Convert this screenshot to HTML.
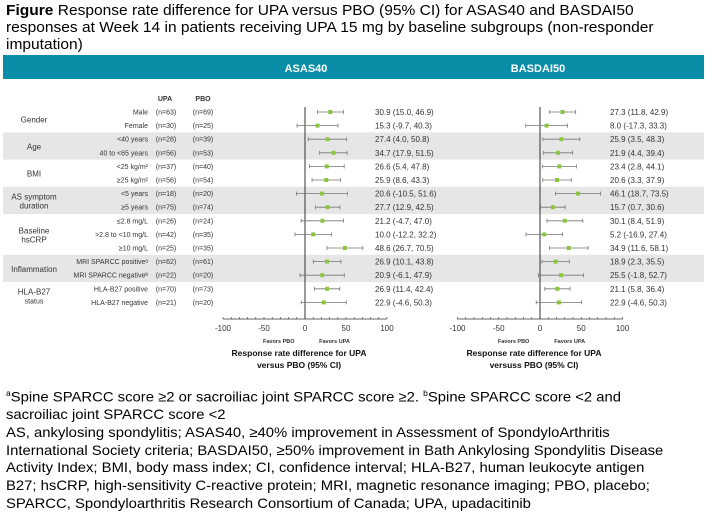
<!DOCTYPE html>
<html><head><meta charset="utf-8"><style>
body{margin:0;width:708px;height:510px;background:#fff;overflow:hidden;font-family:"Liberation Sans",Arial,sans-serif;}
.t{position:absolute;left:6px;top:2px;font-size:15px;line-height:17px;color:#000;white-space:nowrap;transform:scaleX(1.035);transform-origin:0 0;}
.fn{position:absolute;left:6px;top:385px;font-size:14px;line-height:17.7px;white-space:nowrap;transform:scaleX(1.06);transform-origin:0 0;}
</style></head><body>
<div class="t"><b>Figure</b> Response rate difference for UPA versus PBO (95% CI) for ASAS40 and BASDAI50<br>responses at Week 14 in patients receiving UPA 15 mg by baseline subgroups (non-responder<br>imputation)</div>
<svg id="c" width="708" height="380" style="position:absolute;left:0;top:0" font-family="Liberation Sans, Arial, sans-serif"></svg>
<div class="fn"><sup style="font-size:8px">a</sup>Spine SPARCC score ≥2 or sacroiliac joint SPARCC score ≥2. <sup style="font-size:8px">b</sup>Spine SPARCC score &lt;2 and<br>sacroiliac joint SPARCC score &lt;2<br>AS, ankylosing spondylitis; ASAS40, ≥40% improvement in Assessment of SpondyloArthritis<br>International Society criteria; BASDAI50, ≥50% improvement in Bath Ankylosing Spondylitis Disease<br>Activity Index; BMI, body mass index; CI, confidence interval; HLA-B27, human leukocyte antigen<br>B27; hsCRP, high-sensitivity C-reactive protein; MRI, magnetic resonance imaging; PBO, placebo;<br>SPARCC, Spondyloarthritis Research Consortium of Canada; UPA, upadacitinib</div>
<script>
const subgroups=["Male","Female","<40 years","40 to <65 years","<25 kg/m²","≥25 kg/m²","<5 years","≥5 years","≤2.8 mg/L",">2.8 to <10 mg/L","≥10 mg/L","MRI SPARCC positiveᵃ","MRI SPARCC negativeᵇ","HLA-B27 positive","HLA-B27 negative"];
const upaN=[63,30,28,56,37,56,18,75,26,42,25,62,22,70,21];
const pboN=[69,25,39,53,40,54,20,74,24,35,35,61,20,73,20];
const asasEst=[30.9,15.3,27.4,34.7,26.6,25.9,20.6,27.7,21.2,10.0,48.6,26.9,20.9,26.9,22.9];
const asasLo=[15.0,-9.7,4.0,17.9,5.4,8.6,-10.5,12.9,-4.7,-12.2,26.7,10.1,-6.1,11.4,-4.6];
const asasHi=[46.9,40.3,50.8,51.5,47.8,43.3,51.6,42.5,47.0,32.2,70.5,43.8,47.9,42.4,50.3];
const basEst=[27.3,8.0,25.9,21.9,23.4,20.6,46.1,15.7,30.1,5.2,34.9,18.9,25.5,21.1,22.9];
const basLo=[11.8,-17.3,3.5,4.4,2.8,3.3,18.7,0.7,8.4,-16.9,11.6,2.3,-1.8,5.8,-4.6];
const basHi=[42.9,33.3,48.3,39.4,44.1,37.9,73.5,30.6,51.9,27.4,58.1,35.5,52.7,36.4,50.3];
const ticks=[-100,-50,0,50,100];
const groups=[["Gender",0,2,false],["Age",2,2,true],["BMI",4,2,false],["AS symptom|duration",6,2,true],["Baseline|hsCRP",8,3,false],["Inflammation",11,2,true],["HLA-B27|status",13,2,false]];
const svg=document.getElementById('c');const NS="http://www.w3.org/2000/svg";
function el(t,a,txt){const e=document.createElementNS(NS,t);for(const k in a)e.setAttribute(k,a[k]);if(txt!=null)e.textContent=txt;svg.appendChild(e);return e;}
const rowY=i=>112+i*13.6;
const xL=v=>305+v*0.82, xR=v=>540+v*0.825;
let e=el('rect',{x:3,y:55,width:701,height:24,fill:'#0a8ea8'});

e=el('text',{x:306,y:72,fill:'#fff','font-size':11,'font-weight':'bold','text-anchor':'middle'},'ASAS40');

e=el('text',{x:538,y:72,fill:'#fff','font-size':11,'font-weight':'bold','text-anchor':'middle'},'BASDAI50');

groups.forEach(g=>{if(g[3]){const y0=rowY(g[1])-6.8,h=g[2]*13.6;
const r=el('rect',{x:3,y:y0,width:701,height:h,fill:'#e6e6e6'});
}});
e=el('text',{x:165,y:101,'font-size':7,'font-weight':'bold','text-anchor':'middle',fill:'#333'},'UPA');

e=el('text',{x:203,y:101,'font-size':7,'font-weight':'bold','text-anchor':'middle',fill:'#333'},'PBO');

groups.forEach(g=>{const parts=g[0].split('|');const cy=rowY(g[1])+(g[2]-1)*13.6/2;
parts.forEach((p,k)=>{const t=el('text',{x:34,y:cy+3.5+(k-(parts.length-1)/2)*9,'font-size':k&&g[0].startsWith('HLA')?7:8,'text-anchor':'middle',fill:'#333'},p);
});});
subgroups.forEach((s,i)=>{const y=rowY(i)+2.5;
let t=el('text',{x:148,y:y,'font-size':7,'text-anchor':'end',fill:'#333'},s);

t=el('text',{x:166,y:y,'font-size':7,'text-anchor':'middle',fill:'#333'},'(n='+upaN[i]+')');

t=el('text',{x:203,y:y,'font-size':7,'text-anchor':'middle',fill:'#333'},'(n='+pboN[i]+')');
});
function panel(xf,est,lo,hi,tx,name){
 const z=el('line',{x1:xf(0),x2:xf(0),y1:107,y2:319,stroke:'#333','stroke-width':1});
 
 const ax=el('line',{x1:xf(-100),x2:xf(100),y1:319,y2:319,stroke:'#333','stroke-width':0.8});
 
 for(let v=-100;v<=100;v+=10){const m=el('line',{x1:xf(v),x2:xf(v),y1:317,y2:319,stroke:'#333','stroke-width':0.6});
  }
 ticks.forEach(v=>{const t=el('text',{x:xf(v),y:331,'font-size':8,'text-anchor':'middle',fill:'#333'},v);
  });
 let t=el('text',{x:xf(-32),y:343,'font-size':5.5,'font-weight':'bold','text-anchor':'middle',fill:'#333'},'Favors PBO');
 
 t=el('text',{x:xf(36),y:343,'font-size':5.5,'font-weight':'bold','text-anchor':'middle',fill:'#333'},'Favors UPA');
 
 t=el('text',{x:xf(0)-6,y:356,'font-size':8.5,'font-weight':'bold','text-anchor':'middle',fill:'#111'},'Response rate difference for UPA');
 
 t=el('text',{x:xf(0)-6,y:368,'font-size':8.5,'font-weight':'bold','text-anchor':'middle',fill:'#111'},name=='asas'?'versus PBO (95% CI)':'versuss PBO (95% CI)');
 
 est.forEach((v,i)=>{const y=rowY(i);
  const l=el('line',{x1:xf(lo[i]),x2:xf(hi[i]),y1:y,y2:y,stroke:'#777','stroke-width':0.8});
  
  [lo[i],hi[i]].forEach(c=>{const c1=el('line',{x1:xf(c),x2:xf(c),y1:y-2,y2:y+2,stroke:'#777','stroke-width':0.8});
   });
  const p=el('rect',{x:xf(v)-2,y:y-2,width:4,height:4,fill:'#8cc63f'});
  
  const tt=el('text',{x:tx,y:y+3,'font-size':8,fill:'#333'},v.toFixed(1)+' ('+lo[i].toFixed(1)+', '+hi[i].toFixed(1)+')');
  });
}
panel(xL,asasEst,asasLo,asasHi,375,'asas');
panel(xR,basEst,basLo,basHi,610,'basdai');
</script>
</body></html>
